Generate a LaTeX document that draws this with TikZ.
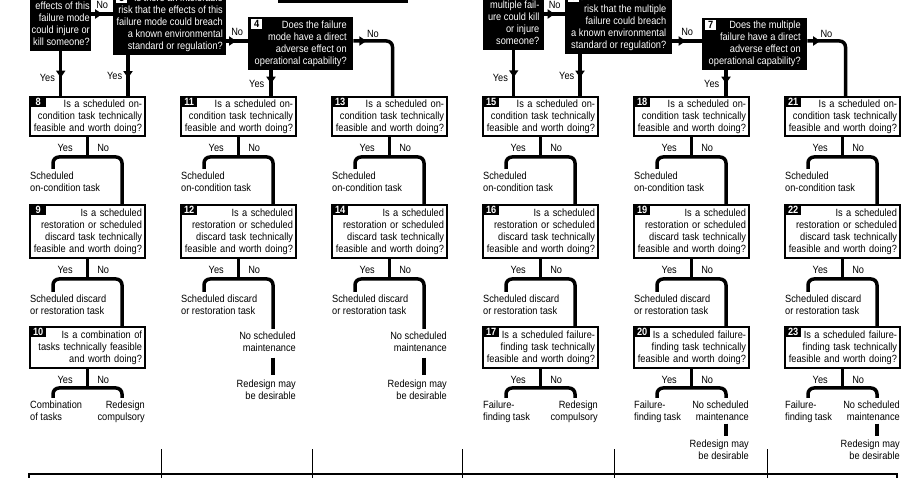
\documentclass[tikz,border=0pt]{standalone}
\usepackage{fontspec}
\setmainfont{Liberation Sans}[FakeStretch=0.88]
\usetikzlibrary{positioning,calc,arrows.meta,decorations.markings}

\newcommand{\chartfont}{\fontsize{10.5}{12}\selectfont}

\tikzset{
  hbox/.style={fill=black, text=white, align=right, inner xsep=3pt, inner ysep=3pt,
    text depth=2.2pt, font=\chartfont},
  qbox/.style={draw, line width=1.2pt, fill=white, text width=109pt, align=right,
    inner xsep=3pt, inner ysep=0pt, outer sep=0pt, font=\chartfont},
  qnum/.style={fill=black, text=white, font=\chartfont\bfseries, inner sep=0pt,
    minimum width=16pt, minimum height=10pt, anchor=north west},
  hnum/.style={qnum, fill=white, text=black, minimum width=11pt},
  outl/.style={align=left, inner sep=0pt, outer ysep=3pt, font=\chartfont},
  outr/.style={outl, align=right},
  lbl/.style={inner sep=0pt, font=\chartfont},
  flow/.style={line width=3.5pt, decoration={markings,
      mark=at position #1 with {\arrow{Triangle[width=9pt,length=7pt]}}},
    postaction={decorate}},
  flow/.default=0.5,
  fork/.style={line width=3.5pt, rounded corners=6pt},
  stub/.style={line width=3.5pt},
}

\begin{document}
\begin{tikzpicture}[x=1pt, y=-1pt]
\useasboundingbox (0,0) rectangle (911,478);
\clip (0,0) rectangle (911,478);
\fill[white] (0,0) rectangle (911,478);

% consequence questions, evident failures
\node[hbox, minimum width=130pt, minimum height=30pt, anchor=south west] (h0) at (278,3) {};
\node[hbox, inner xsep=1.5pt, minimum width=61pt, anchor=south west] (h1) at (30,51) {effects of this\\failure mode\\could injure or\\kill someone?};
\node[hbox, minimum width=113pt, anchor=south west] (h2) at (113,55) {Is there an intolerable\\risk that the effects of this\\failure mode could breach\\a known environmental\\standard or regulation?};
\node[hnum] (k3) at ([xshift=3pt,yshift=-2pt]h2.north west) {3};
\node[hbox, minimum width=105pt, minimum height=53pt, anchor=north west] (h4) at (248,17) {Does the failure\\mode have a direct\\adverse effect on\\operational capability?};
\node[hnum] (k4) at ([xshift=3pt,yshift=-2pt]h4.north west) {4};

% consequence questions, hidden failures
\node[hbox, inner xsep=1.5pt, minimum width=61pt, anchor=south west] (h5) at (483,50) {multiple fail-\\ure could kill\\or injure\\someone?};
\node[hbox, minimum width=107pt, anchor=south west] (h6) at (565,54) {Is there an intolerable\\risk that the multiple\\failure could breach\\a known environmental\\standard or regulation?};
\node[hnum] (k6) at ([xshift=3pt,yshift=-2pt]h6.north west) {6};
\node[hbox, minimum width=105pt, minimum height=52pt, anchor=north west] (h7) at (702,18) {Does the multiple\\failure have a direct\\adverse effect on\\operational capability?};
\node[hnum] (k7) at ([xshift=3pt,yshift=-2pt]h7.north west) {7};

% column 1
\node[qbox, minimum height=39pt, anchor=north west] (q8) at (30,97) {Is a scheduled on-\\condition task technically\\feasible and worth doing?};
\node[qnum] (k8) at (q8.north west) {8};
\node[outl, below=33pt of q8.south west, anchor=north west] (s8) {Scheduled\\on-condition task};
\node[qbox, minimum height=53pt, below=69pt of q8.south west, anchor=north west] (q9) {Is a scheduled\\restoration or scheduled\\discard task technically\\feasible and worth doing?};
\node[qnum] (k9) at (q9.north west) {9};
\node[outl, below=34pt of q9.south west, anchor=north west] (s9) {Scheduled discard\\or restoration task};
\node[qbox, minimum height=41pt, below=69pt of q9.south west, anchor=north west] (q10) {Is a combination of\\tasks technically feasible\\and worth doing?};
\node[qnum] (k10) at (q10.north west) {10};
\node[outl, below=30pt of q10.south west, anchor=north west] (s10) {Combination\\of tasks};
\node[outr, below=30pt of q10.south east, anchor=north east] (r10) {Redesign\\compulsory};

% column 2
\node[qbox, minimum height=39pt, anchor=north west] (q11) at (181,97) {Is a scheduled on-\\condition task technically\\feasible and worth doing?};
\node[qnum] (k11) at (q11.north west) {11};
\node[outl, below=33pt of q11.south west, anchor=north west] (s11) {Scheduled\\on-condition task};
\node[qbox, minimum height=53pt, below=69pt of q11.south west, anchor=north west] (q12) {Is a scheduled\\restoration or scheduled\\discard task technically\\feasible and worth doing?};
\node[qnum] (k12) at (q12.north west) {12};
\node[outl, below=34pt of q12.south west, anchor=north west] (s12) {Scheduled discard\\or restoration task};
\node[outr, below=71pt of q12.south east, anchor=north east] (m12) {No scheduled\\maintenance};
\node[outr, below=22pt of m12.south east, anchor=north east] (d12) {Redesign may\\be desirable};

% column 3
\node[qbox, minimum height=39pt, anchor=north west] (q13) at (332,97) {Is a scheduled on-\\condition task technically\\feasible and worth doing?};
\node[qnum] (k13) at (q13.north west) {13};
\node[outl, below=33pt of q13.south west, anchor=north west] (s13) {Scheduled\\on-condition task};
\node[qbox, minimum height=53pt, below=69pt of q13.south west, anchor=north west] (q14) {Is a scheduled\\restoration or scheduled\\discard task technically\\feasible and worth doing?};
\node[qnum] (k14) at (q14.north west) {14};
\node[outl, below=34pt of q14.south west, anchor=north west] (s14) {Scheduled discard\\or restoration task};
\node[outr, below=71pt of q14.south east, anchor=north east] (m14) {No scheduled\\maintenance};
\node[outr, below=22pt of m14.south east, anchor=north east] (d14) {Redesign may\\be desirable};

% column 4
\node[qbox, minimum height=39pt, anchor=north west] (q15) at (483,97) {Is a scheduled on-\\condition task technically\\feasible and worth doing?};
\node[qnum] (k15) at (q15.north west) {15};
\node[outl, below=33pt of q15.south west, anchor=north west] (s15) {Scheduled\\on-condition task};
\node[qbox, minimum height=53pt, below=69pt of q15.south west, anchor=north west] (q16) {Is a scheduled\\restoration or scheduled\\discard task technically\\feasible and worth doing?};
\node[qnum] (k16) at (q16.north west) {16};
\node[outl, below=34pt of q16.south west, anchor=north west] (s16) {Scheduled discard\\or restoration task};
\node[qbox, minimum height=41pt, below=69pt of q16.south west, anchor=north west] (q17) {Is a scheduled failure-\\finding task technically\\feasible and worth doing?};
\node[qnum] (k17) at (q17.north west) {17};
\node[outl, below=30pt of q17.south west, anchor=north west] (s17) {Failure-\\finding task};
\node[outr, below=30pt of q17.south east, anchor=north east] (r17) {Redesign\\compulsory};

% column 5
\node[qbox, minimum height=39pt, anchor=north west] (q18) at (634,97) {Is a scheduled on-\\condition task technically\\feasible and worth doing?};
\node[qnum] (k18) at (q18.north west) {18};
\node[outl, below=33pt of q18.south west, anchor=north west] (s18) {Scheduled\\on-condition task};
\node[qbox, minimum height=53pt, below=69pt of q18.south west, anchor=north west] (q19) {Is a scheduled\\restoration or scheduled\\discard task technically\\feasible and worth doing?};
\node[qnum] (k19) at (q19.north west) {19};
\node[outl, below=34pt of q19.south west, anchor=north west] (s19) {Scheduled discard\\or restoration task};
\node[qbox, minimum height=41pt, below=69pt of q19.south west, anchor=north west] (q20) {Is a scheduled failure-\\finding task technically\\feasible and worth doing?};
\node[qnum] (k20) at (q20.north west) {20};
\node[outl, below=30pt of q20.south west, anchor=north west] (s20) {Failure-\\finding task};
\node[outr, below=30pt of q20.south east, anchor=north east] (m20) {No scheduled\\maintenance};
\node[outr, below=13pt of m20.south east, anchor=north east] (d20) {Redesign may\\be desirable};

% column 6
\node[qbox, minimum height=39pt, anchor=north west] (q21) at (785,97) {Is a scheduled on-\\condition task technically\\feasible and worth doing?};
\node[qnum] (k21) at (q21.north west) {21};
\node[outl, below=33pt of q21.south west, anchor=north west] (s21) {Scheduled\\on-condition task};
\node[qbox, minimum height=53pt, below=69pt of q21.south west, anchor=north west] (q22) {Is a scheduled\\restoration or scheduled\\discard task technically\\feasible and worth doing?};
\node[qnum] (k22) at (q22.north west) {22};
\node[outl, below=34pt of q22.south west, anchor=north west] (s22) {Scheduled discard\\or restoration task};
\node[qbox, minimum height=41pt, below=69pt of q22.south west, anchor=north west] (q23) {Is a scheduled failure-\\finding task technically\\feasible and worth doing?};
\node[qnum] (k23) at (q23.north west) {23};
\node[outl, below=30pt of q23.south west, anchor=north west] (s23) {Failure-\\finding task};
\node[outr, below=30pt of q23.south east, anchor=north east] (m23) {No scheduled\\maintenance};
\node[outr, below=13pt of m23.south east, anchor=north east] (d23) {Redesign may\\be desirable};

% arrows between the top questions
\coordinate (no1) at (0,14);
\coordinate (no2) at (0,41);
\draw[flow] (h1.east |- no1) -- (h2.west |- no1) node[lbl, midway, above=4pt] (na1) {No};
\draw[flow=0.45] (h2.east |- no2) -- (h4.west |- no2) node[lbl, midway, above=4pt] (na2) {No};
\draw[flow=0.14, rounded corners=6pt] (h4.east |- no2) -| ([xshift=3pt]q13.north) node[lbl, pos=0.25, above=2pt] (na4) {No};
\draw[flow=0.58] (h1.south) -- (h1.south |- q8.north) node[lbl, pos=0.59, left=4pt] (ya1) {Yes};
\coordinate (c2) at ([xshift=15pt]h2.south west);
\draw[flow=0.55] (c2) -- (c2 |- q8.north) node[lbl, pos=0.5, left=4pt] (ya2) {Yes};
\coordinate (c4) at ([xshift=23pt]h4.south west);
\draw[flow] (c4) -- (c4 |- q11.north) node[lbl, pos=0.52, left=5pt] (ya4) {Yes};

\draw[flow] (h5.east |- no1) -- (h6.west |- no1) node[lbl, midway, above=4pt] (na5) {No};
\draw[flow=0.45] (h6.east |- no2) -- (h7.west |- no2) node[lbl, midway, above=4pt] (na6) {No};
\draw[flow=0.14, rounded corners=6pt] (h7.east |- no2) -| ([xshift=3pt]q21.north) node[lbl, pos=0.25, above=2pt] (na7) {No};
\draw[flow=0.58] (h5.south) -- (h5.south |- q15.north) node[lbl, pos=0.59, left=4pt] (ya5) {Yes};
\coordinate (c6) at ([xshift=15pt]h6.south west);
\draw[flow=0.55] (c6) -- (c6 |- q15.north) node[lbl, pos=0.5, left=4pt] (ya6) {Yes};
\coordinate (c7) at ([xshift=24pt]h7.south west);
\draw[flow] (c7) -- (c7 |- q18.north) node[lbl, pos=0.52, left=5pt] (ya7) {Yes};

% yes/no forks, column 1
\draw[fork] (q8.south) -- ++(0,21) node[lbl, pos=0.57, left=13pt] (ya8) {Yes} node[lbl, pos=0.57, right=8pt] (na8) {No};
\draw[fork] ([xshift=23pt]s8.north west) |- ($(q8.south)+(0,21)$) -| ([xshift=-23pt]q9.north east);
\draw[fork] (q9.south) -- ++(0,21) node[lbl, pos=0.57, left=13pt] (ya9) {Yes} node[lbl, pos=0.57, right=8pt] (na9) {No};
\draw[fork] ([xshift=23pt]s9.north west) |- ($(q9.south)+(0,21)$) -| ([xshift=-23pt]q10.north east);
\draw[fork] (q10.south) -- ++(0,20) node[lbl, pos=0.6, left=13pt] (ya10) {Yes} node[lbl, pos=0.6, right=8pt] (na10) {No};
\draw[fork] ([xshift=23pt]s10.north west) |- ($(q10.south)+(0,20)$) -| ([xshift=-23pt]r10.north east);

% column 2
\draw[fork] (q11.south) -- ++(0,21) node[lbl, pos=0.57, left=13pt] (ya11) {Yes} node[lbl, pos=0.57, right=8pt] (na11) {No};
\draw[fork] ([xshift=23pt]s11.north west) |- ($(q11.south)+(0,21)$) -| ([xshift=-23pt]q12.north east);
\draw[fork] (q12.south) -- ++(0,21) node[lbl, pos=0.57, left=13pt] (ya12) {Yes} node[lbl, pos=0.57, right=8pt] (na12) {No};
\draw[fork] ([xshift=23pt]s12.north west) |- ($(q12.south)+(0,21)$) -| ([xshift=-23pt]m12.north east);
\draw[stub, shorten <=3pt, shorten >=2pt] ([xshift=-23pt]m12.south east) -- ([xshift=-23pt]d12.north east);

% column 3
\draw[fork] (q13.south) -- ++(0,21) node[lbl, pos=0.57, left=13pt] (ya13) {Yes} node[lbl, pos=0.57, right=8pt] (na13) {No};
\draw[fork] ([xshift=23pt]s13.north west) |- ($(q13.south)+(0,21)$) -| ([xshift=-23pt]q14.north east);
\draw[fork] (q14.south) -- ++(0,21) node[lbl, pos=0.57, left=13pt] (ya14) {Yes} node[lbl, pos=0.57, right=8pt] (na14) {No};
\draw[fork] ([xshift=23pt]s14.north west) |- ($(q14.south)+(0,21)$) -| ([xshift=-23pt]m14.north east);
\draw[stub, shorten <=3pt, shorten >=2pt] ([xshift=-23pt]m14.south east) -- ([xshift=-23pt]d14.north east);

% column 4
\draw[fork] (q15.south) -- ++(0,21) node[lbl, pos=0.57, left=13pt] (ya15) {Yes} node[lbl, pos=0.57, right=8pt] (na15) {No};
\draw[fork] ([xshift=23pt]s15.north west) |- ($(q15.south)+(0,21)$) -| ([xshift=-23pt]q16.north east);
\draw[fork] (q16.south) -- ++(0,21) node[lbl, pos=0.57, left=13pt] (ya16) {Yes} node[lbl, pos=0.57, right=8pt] (na16) {No};
\draw[fork] ([xshift=23pt]s16.north west) |- ($(q16.south)+(0,21)$) -| ([xshift=-23pt]q17.north east);
\draw[fork] (q17.south) -- ++(0,20) node[lbl, pos=0.6, left=13pt] (ya17) {Yes} node[lbl, pos=0.6, right=8pt] (na17) {No};
\draw[fork] ([xshift=23pt]s17.north west) |- ($(q17.south)+(0,20)$) -| ([xshift=-23pt]r17.north east);

% column 5
\draw[fork] (q18.south) -- ++(0,21) node[lbl, pos=0.57, left=13pt] (ya18) {Yes} node[lbl, pos=0.57, right=8pt] (na18) {No};
\draw[fork] ([xshift=23pt]s18.north west) |- ($(q18.south)+(0,21)$) -| ([xshift=-23pt]q19.north east);
\draw[fork] (q19.south) -- ++(0,21) node[lbl, pos=0.57, left=13pt] (ya19) {Yes} node[lbl, pos=0.57, right=8pt] (na19) {No};
\draw[fork] ([xshift=23pt]s19.north west) |- ($(q19.south)+(0,21)$) -| ([xshift=-23pt]q20.north east);
\draw[fork] (q20.south) -- ++(0,20) node[lbl, pos=0.6, left=13pt] (ya20) {Yes} node[lbl, pos=0.6, right=8pt] (na20) {No};
\draw[fork] ([xshift=23pt]s20.north west) |- ($(q20.south)+(0,20)$) -| ([xshift=-23pt]m20.north east);
\draw[stub, shorten >=1pt] ([xshift=-23pt]m20.south east) -- ([xshift=-23pt]d20.north east);

% column 6
\draw[fork] (q21.south) -- ++(0,21) node[lbl, pos=0.57, left=13pt] (ya21) {Yes} node[lbl, pos=0.57, right=8pt] (na21) {No};
\draw[fork] ([xshift=23pt]s21.north west) |- ($(q21.south)+(0,21)$) -| ([xshift=-23pt]q22.north east);
\draw[fork] (q22.south) -- ++(0,21) node[lbl, pos=0.57, left=13pt] (ya22) {Yes} node[lbl, pos=0.57, right=8pt] (na22) {No};
\draw[fork] ([xshift=23pt]s22.north west) |- ($(q22.south)+(0,21)$) -| ([xshift=-23pt]q23.north east);
\draw[fork] (q23.south) -- ++(0,20) node[lbl, pos=0.6, left=13pt] (ya23) {Yes} node[lbl, pos=0.6, right=8pt] (na23) {No};
\draw[fork] ([xshift=23pt]s23.north west) |- ($(q23.south)+(0,20)$) -| ([xshift=-23pt]m23.north east);
\draw[stub, shorten >=1pt] ([xshift=-23pt]m23.south east) -- ([xshift=-23pt]d23.north east);

% table underneath
\draw[line width=1.6pt] (29,485) |- (897,474) -- (897,485);
\draw[line width=0.9pt] (161,449) -- (161,485) (312,449) -- (312,485) (462,449) -- (462,485)
  (614,449) -- (614,485) (767,449) -- (767,485);
\end{tikzpicture}
\end{document}
